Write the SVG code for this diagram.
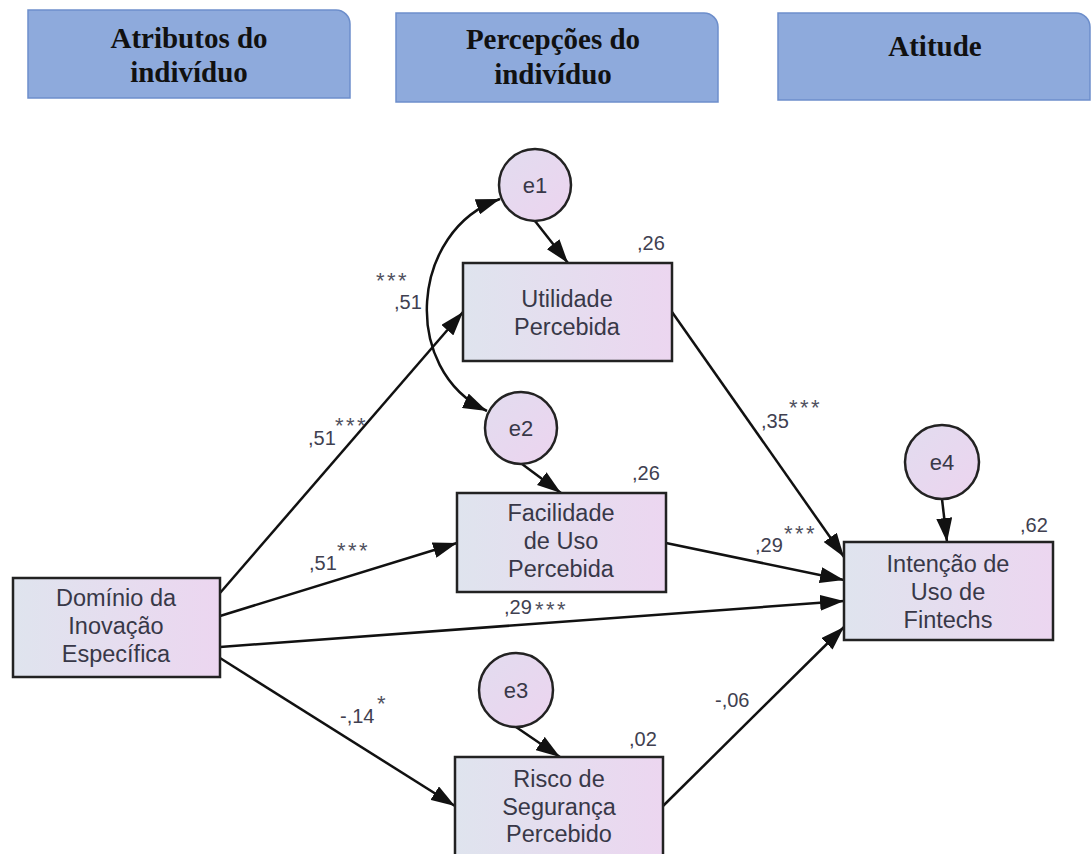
<svg xmlns="http://www.w3.org/2000/svg" width="1092" height="854" viewBox="0 0 1092 854">
<defs>
<linearGradient id="ng" x1="0" y1="0" x2="1" y2="0">
<stop offset="0" stop-color="#dfe4ee"/>
<stop offset="1" stop-color="#ecd6f0"/>
</linearGradient>
<linearGradient id="cg" x1="0" y1="0" x2="1" y2="1">
<stop offset="0" stop-color="#e2dcef"/>
<stop offset="1" stop-color="#ecd4ef"/>
</linearGradient>
<marker id="ah" viewBox="0 0 24 16" refX="24" refY="8" markerWidth="24" markerHeight="16" orient="auto-start-reverse" markerUnits="userSpaceOnUse">
<path d="M0,0 L24,8 L0,16 z" fill="#111"/>
</marker>
</defs>
<style>
.hdr{fill:#8eaadc;stroke:#6d8ecb;stroke-width:1.5}
.ht{font-family:"Liberation Serif",serif;font-weight:bold;font-size:29px;fill:#111;text-anchor:middle}
.box{fill:url(#ng);stroke:#222;stroke-width:2.5}
.cir{fill:url(#cg);stroke:#222;stroke-width:2.5}
.nt{font-family:"Liberation Sans",Arial,sans-serif;font-size:23.5px;fill:#383848;text-anchor:middle}
.lb{font-family:"Liberation Sans",Arial,sans-serif;font-size:20px;fill:#404050}
.st{font-family:"Liberation Sans",Arial,sans-serif;font-size:22px;fill:#505060;letter-spacing:2.5px}
.cn{fill:none;stroke:#111;stroke-width:2.5;marker-end:url(#ah)}
</style>
<rect width="1092" height="854" fill="#fff"/>
<g id="header1">
<path class="hdr" d="M28,10 H336 A14,14 0 0 1 350,24 V98 H28 Z"/>
<text class="ht" x="189" y="48">Atributos do</text>
<text class="ht" x="189" y="82">indivíduo</text>
</g>
<g id="header2">
<path class="hdr" d="M396,13 H704 A14,14 0 0 1 718,27 V102 H396 Z"/>
<text class="ht" x="553" y="49">Percepções do</text>
<text class="ht" x="553" y="84">indivíduo</text>
</g>
<g id="header3">
<path class="hdr" d="M778,13 H1076 A14,14 0 0 1 1090,27 V100 H778 Z"/>
<text class="ht" x="935" y="56">Atitude</text>
</g>
<g id="connectors">
<path class="cn" d="M220,593 L463,312"/>
<path class="cn" d="M220,616 L457,543"/>
<path class="cn" d="M220,647 L844,601"/>
<path class="cn" d="M220,658 L455,806"/>
<path class="cn" d="M672,312 L844,557"/>
<path class="cn" d="M666,543 L844,580"/>
<path class="cn" d="M663,806 L844,627"/>
<path class="cn" d="M535,221 L568,263"/>
<path class="cn" d="M522,464 L561,493"/>
<path class="cn" d="M516,727 L560,757"/>
<path class="cn" d="M942,499 L947,542"/>
<path class="cn" d="M500,199 C410,230 400,370 487,411" style="marker-start:url(#ah)"/>
</g>
<g id="e1"><circle class="cir" cx="535" cy="185" r="36"/><text class="nt" x="535" y="193" style="font-size:22px">e1</text></g>
<g id="e2"><circle class="cir" cx="521" cy="428" r="36"/><text class="nt" x="521" y="436" style="font-size:22px">e2</text></g>
<g id="e3"><circle class="cir" cx="516" cy="690" r="37"/><text class="nt" x="516" y="698" style="font-size:22px">e3</text></g>
<g id="e4"><circle class="cir" cx="942" cy="462" r="37"/><text class="nt" x="942" y="470" style="font-size:22px">e4</text></g>
<g id="utilidade">
<rect class="box" x="463" y="263" width="209" height="98"/>
<text class="nt" x="567" y="307">Utilidade</text>
<text class="nt" x="567" y="335">Percebida</text>
</g>
<g id="facilidade">
<rect class="box" x="457" y="493" width="209" height="99"/>
<text class="nt" x="561" y="521">Facilidade</text>
<text class="nt" x="561" y="549">de Uso</text>
<text class="nt" x="561" y="577">Percebida</text>
</g>
<g id="dominio">
<rect class="box" x="13" y="578" width="207" height="99"/>
<text class="nt" x="116" y="606">Domínio da</text>
<text class="nt" x="116" y="634">Inovação</text>
<text class="nt" x="116" y="662">Específica</text>
</g>
<g id="risco">
<rect class="box" x="455" y="757" width="208" height="100"/>
<text class="nt" x="559" y="787">Risco de</text>
<text class="nt" x="559" y="815">Segurança</text>
<text class="nt" x="559" y="842">Percebido</text>
</g>
<g id="intencao">
<rect class="box" x="844" y="542" width="209" height="98"/>
<text class="nt" x="948" y="572">Intenção de</text>
<text class="nt" x="948" y="600">Uso de</text>
<text class="nt" x="948" y="628">Fintechs</text>
</g>
<g id="labels">
<text class="lb" x="637" y="250">,26</text>
<text class="lb" x="632" y="480">,26</text>
<text class="lb" x="629" y="746">,02</text>
<text class="lb" x="1020" y="532">,62</text>
<text class="st" x="376" y="288">***</text>
<text class="lb" x="394" y="309">,51</text>
<text class="lb" x="308" y="445">,51</text>
<text class="st" x="335" y="433">***</text>
<text class="lb" x="309" y="570">,51</text>
<text class="st" x="337" y="558">***</text>
<text class="lb" x="504" y="614">,29</text>
<text class="st" x="535" y="617">***</text>
<text class="lb" x="761" y="428">,35</text>
<text class="st" x="789" y="415">***</text>
<text class="lb" x="755" y="552">,29</text>
<text class="st" x="784" y="541">***</text>
<text class="lb" x="340" y="723">-,14</text>
<text class="st" x="377" y="711">*</text>
<text class="lb" x="715" y="707">-,06</text>
</g>
</svg>
